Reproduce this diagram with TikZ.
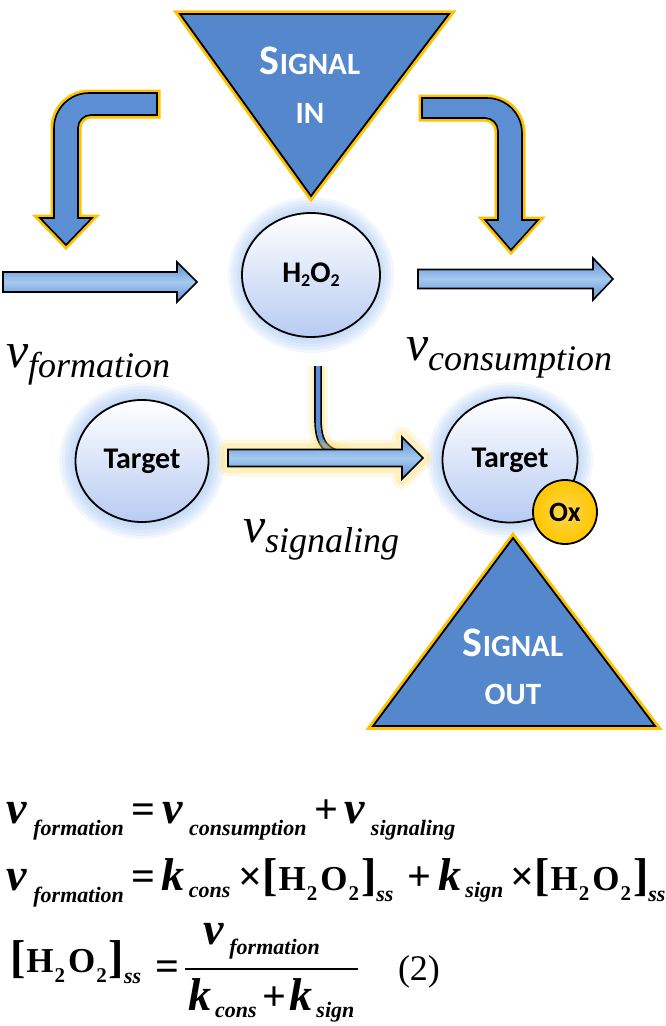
\documentclass[tikz,border=0pt]{standalone}
\usepackage{fontspec}
\setmainfont{Liberation Serif}
\newfontfamily\calfont{Carlito}
\usetikzlibrary{shapes.geometric,backgrounds}

\definecolor{triblue}{RGB}{84,135,204}
\definecolor{arrowblue}{RGB}{92,142,212}
\definecolor{arrowlight}{RGB}{165,202,240}
\definecolor{rimgold}{RGB}{255,194,0}
\definecolor{softgold}{RGB}{255,215,90}
\definecolor{haloblue}{RGB}{135,180,238}
\definecolor{ballblue}{RGB}{184,203,242}
\definecolor{oxgold}{RGB}{255,198,0}

% labels in the scheme
\newcommand\signalword{{\fontsize{42}{42}\selectfont S}{\fontsize{31}{31}\selectfont IGNAL}}
\newcommand\vlab[1]{{\fontsize{50}{50}\selectfont v}\raisebox{-10pt}{\fontsize{36}{36}\selectfont #1}}
% pieces of the equations
\newcommand\ev{{\fontsize{46}{46}\selectfont\bfseries\itshape v}}
\newcommand\ek{{\fontsize{46}{46}\selectfont\bfseries\itshape k}}
\newcommand\eop[1]{{\fontsize{42}{42}\selectfont\bfseries #1}}
\newcommand\esub[2]{\raisebox{-#1pt}{\fontsize{22}{22}\selectfont\bfseries\itshape #2}}
\newcommand\etwo{\raisebox{-10pt}{\fontsize{21}{21}\selectfont\bfseries 2}}
\newcommand\hoobox{{\fontsize{46}{46}\selectfont\bfseries [}\kern1pt{\fontsize{35}{35}\selectfont\bfseries H}\kern1pt\etwo\kern3pt{\fontsize{35}{35}\selectfont\bfseries O}\kern1pt\etwo\kern2pt{\fontsize{46}{46}\selectfont\bfseries ]}\esub{11}{ss}}

\begin{document}
\begin{tikzpicture}[x=1pt,y=-1pt,
  every node/.style={inner sep=0pt,outer sep=0pt},
  tri/.style={fill=triblue,draw=black,line width=1.8pt,line join=miter,
    preaction={draw=rimgold,line width=7.5pt,line join=miter}},
  signtxt/.style={anchor=base,text=white,font=\calfont\bfseries},
  bubble/.style={ellipse,draw,line width=1.8pt,top color=white,bottom color=ballblue,
    font=\calfont\bfseries\fontsize{30}{30}\selectfont},
  oxdisc/.style={circle,draw,line width=1.8pt,inner color=oxgold!70!white,outer color=oxgold,
    minimum size=64pt,font=\calfont\bfseries\fontsize{28}{28}\selectfont},
  barrow/.style={draw=black,line width=1.6pt,line join=miter,
    top color=arrowblue,bottom color=arrowblue,middle color=arrowlight},
  glowy/.style={preaction={draw=softgold,line width=20pt,opacity=0.18,line join=round},
    preaction={draw=softgold,line width=13pt,opacity=0.25,line join=round}},
  bentarrow/.style={fill=arrowblue,draw=black,line width=1.6pt,line join=miter,
    preaction={draw=rimgold,line width=7pt,line join=miter}},
  stem/.style={line width=1.6pt,double=arrowblue,double distance=4.5pt},
  vlabel/.style={anchor=base west,font=\itshape},
  eqline/.style={anchor=base west}]
\useasboundingbox (0,0) rectangle (666,1026);

% signal in / out
\coordinate (inL) at (180,14);
\coordinate (inR) at (449,14);
\coordinate (inT) at (311,196);
\draw[tri] (inL) -- (inR) -- (inT) -- cycle;
\node[signtxt] (inA) at (310,74) {\signalword};
\node[signtxt] (inB) at (310,123) {\fontsize{31}{31}\selectfont IN};

\coordinate (outT) at (513,538);
\coordinate (outL) at (373,726);
\coordinate (outR) at (655,726);
\draw[tri] (outT) -- (outR) -- (outL) -- cycle;
\node[signtxt] (outA) at (513,656) {\signalword};
\node[signtxt] (outB) at (513,704) {\fontsize{31}{31}\selectfont OUT};

% molecules
\node[bubble,minimum width=138pt,minimum height=124pt] (hoo) at (311,275)
  {H\raisebox{-4pt}{\fontsize{18}{18}\selectfont 2}O\raisebox{-4pt}{\fontsize{18}{18}\selectfont 2}};
\node[bubble,minimum width=133pt,minimum height=122pt] (tgtL) at (142,461) {Target};
\node[bubble,minimum width=135pt,minimum height=125pt] (tgtR) at (510,460) {Target};
\node[oxdisc] (ox) at (565,512) {Ox};

\begin{scope}[on background layer]
\foreach \n in {hoo,tgtL,tgtR}
  \foreach \g in {16,13,...,1}
    \fill[haloblue,opacity=0.11] (\n.center) ellipse ({67+\g} and {62+\g});
\end{scope}

% bent arrows
\draw[bentarrow] (157,93) -- (89,93) .. controls (69.7,93) and (54,108.7) .. (54,128)
  -- (54,218) -- (40,218) -- (66,245) -- (92,218) -- (78,218) -- (78,128)
  .. controls (78,120.8) and (83.8,115) .. (91,115) -- (157,115) -- cycle;
\draw[bentarrow] (422,98) -- (487,98) .. controls (506.3,98) and (522,113.7) .. (522,133)
  -- (522,220) -- (538,220) -- (511,250) -- (485,220) -- (498,220) -- (498,131)
  .. controls (498,123.8) and (492.2,118) .. (485,118) -- (422,118) -- cycle;

% straight arrows
\coordinate (fin) at (3,282);
\coordinate (cin) at (418,279);
\coordinate (sin) at (228,458);
\draw[barrow] (fin) ++(0,-10) -- ++(174,0) -- ++(0,-10) -- ++(20,20)
  -- ++(-20,20) -- ++(0,-10) -- ++(-174,0) -- cycle;
\draw[barrow] (cin) ++(0,-9.5) -- ++(175,0) -- ++(0,-11.5) -- ++(20,21)
  -- ++(-20,21) -- ++(0,-11.5) -- ++(-175,0) -- cycle;
\coordinate (dropTop) at (318,366);
\coordinate (dropEnd) at (348,456);
\draw[stem,glowy] (dropTop) -- (318,418) .. controls (318,444) and (325,452) .. (dropEnd);
\draw[barrow,glowy]
  (sin) ++(0,-8.5) -- ++(174,0) -- ++(0,-12.5) -- ++(21,21)
  -- ++(-21,21) -- ++(0,-12.5) -- ++(-174,0) -- cycle;

% rates
\node[vlabel] (vform) at (6,367) {\vlab{formation}};
\node[vlabel] (vcons) at (406,360) {\vlab{consumption}};
\node[vlabel] (vsign) at (243,542) {\vlab{signaling}};

% equations
\node[eqline] (eqA) at (6,823) {\ev\kern7pt\esub{12}{formation}\kern8pt\eop{=}\kern7pt\ev\kern6pt\esub{12}{consumption}\kern8pt\eop{+}\kern6pt\ev\kern6pt\esub{12}{signaling}};
\node[eqline] (eqB) at (6,890) {\ev\kern7pt\esub{12}{formation}\kern8pt\eop{=}\kern6pt\ek\kern4pt\esub{7}{cons}\kern8pt\eop{×}\hoobox\kern14pt\eop{+}\kern7pt\ek\kern4pt\esub{7}{sign}\kern7pt\eop{×}\hoobox};
\node[eqline] (eqC) at (10,972) {\hoobox};
\node[eqline] (eqeq) at (155,980) {\eop{=}};
\coordinate (barL) at (185,969);
\coordinate (barR) at (358,969);
\draw[line width=2pt] (barL) -- (barR);
\node[eqline] (num) at (203,944) {\ev\kern6pt\esub{10}{formation}};
\node[eqline] (den) at (188,1010) {\ek\kern4pt\esub{7}{cons}\kern6pt\eop{+}\kern3pt\ek\kern4pt\esub{7}{sign}};
\node[eqline] (eqno) at (398,980) {\fontsize{36}{36}\selectfont (2)};
\end{tikzpicture}
\end{document}
